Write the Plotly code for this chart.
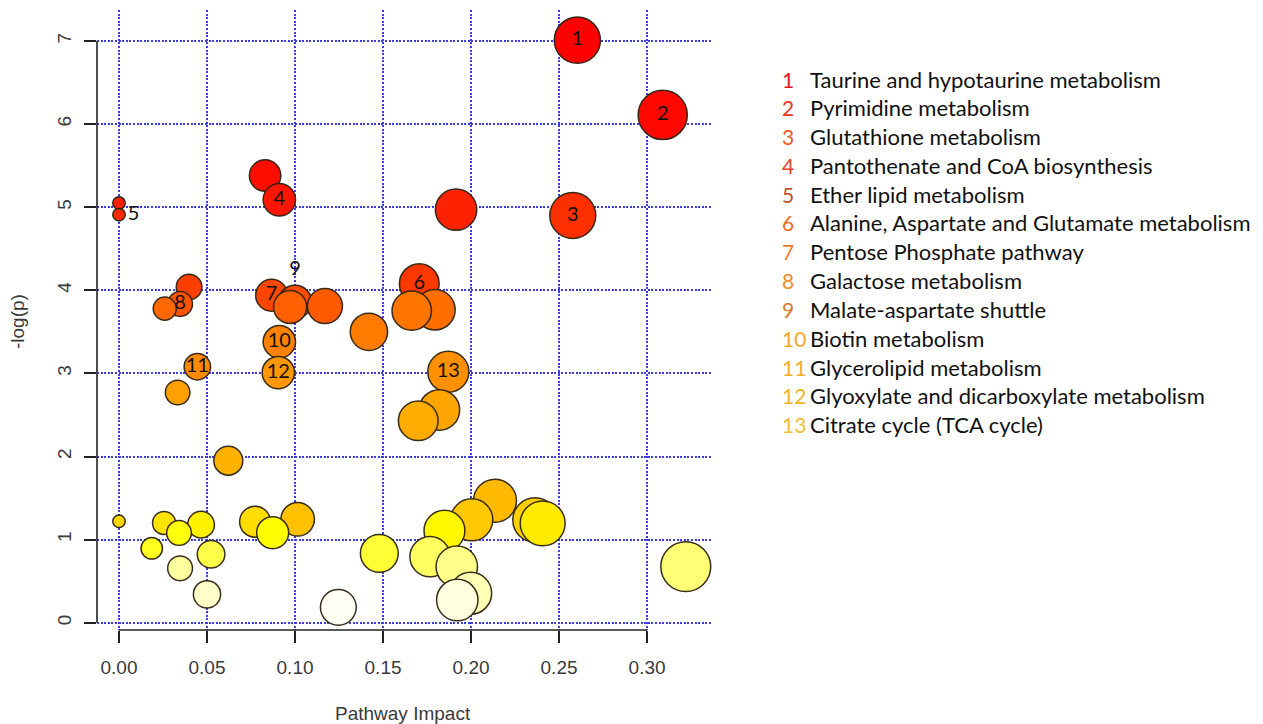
import plotly.graph_objects as go
import math

# ---------------- data ----------------
impact = [0.2604, 0.3089, 0.0830, 0.0911, 0.0000, 0.1915, 0.0000, 0.2578,
          0.1706, 0.0398, 0.0867, 0.1000, 0.0347, 0.1170, 0.0972, 0.0260,
          0.1795, 0.1663, 0.1420, 0.0911, 0.0445, 0.1871, 0.0905, 0.0333,
          0.1820, 0.1700, 0.0621, 0.2136, 0.1015, 0.2004, 0.2364, 0.0000,
          0.0773, 0.0256, 0.2407, 0.0466, 0.1849, 0.0873, 0.0341, 0.0186,
          0.1479, 0.0523, 0.1767, 0.3220, 0.1919, 0.0347, 0.1998, 0.0500,
          0.1922, 0.1246]
neglogp = [7.01, 6.11, 5.38, 5.09, 5.05, 4.97, 4.91, 4.90,
           4.08, 4.04, 3.94, 3.86, 3.835, 3.81, 3.80, 3.78,
           3.765, 3.755, 3.50, 3.38, 3.08, 3.02, 3.01, 2.77,
           2.56, 2.43, 1.95, 1.468, 1.244, 1.238, 1.236, 1.22,
           1.215, 1.20, 1.196, 1.18, 1.107, 1.083, 1.08, 0.895,
           0.835, 0.823, 0.794, 0.675, 0.674, 0.655, 0.354, 0.342,
           0.273, 0.185]
point_labels = ["1", "2", "", "4", "", "", "5", "3",
                "6", "", "7", "9", "8", "", "", "",
                "", "", "", "10", "11", "13", "12", "",
                "", "", "", "", "", "", "", "",
                "", "", "", "", "", "", "", "",
                "", "", "", "", "", "", "", "",
                "", ""]
legend_numbers = ["1", "2", "3", "4", "5", "6", "7", "8", "9", "10", "11", "12", "13"]
legend_names = ["Taurine and hypotaurine metabolism",
                "Pyrimidine metabolism",
                "Glutathione metabolism",
                "Pantothenate and CoA biosynthesis",
                "Ether lipid metabolism",
                "Alanine, Aspartate and Glutamate metabolism",
                "Pentose Phosphate pathway",
                "Galactose metabolism",
                "Malate-aspartate shuttle",
                "Biotin metabolism",
                "Glycerolipid metabolism",
                "Glyoxylate and dicarboxylate metabolism",
                "Citrate cycle (TCA cycle)"]
x_ticks = [0.00, 0.05, 0.10, 0.15, 0.20, 0.25, 0.30]
y_ticks = [0, 1, 2, 3, 4, 5, 6, 7]

# ---------------- styling ----------------
OFF = 8                                   # page body margin
W, H = 1263 - OFF, 724 - OFF
L, R, T, B = 97 - OFF, 712 - OFF, 10 - OFF, 630 - OFF   # plot region (figure px)
XR = [-0.0125, 0.3369]
YR = [-0.0878, 7.373]
px_per_x = (R - L) / (XR[1] - XR[0])

legend_colors = ["#E8141C", "#E8361C", "#EE5A24", "#E8441E", "#C0502E",
                 "#F06A22", "#EE7A24", "#F08A2A", "#D87A28", "#F5A623",
                 "#F2AE1E", "#F2B424", "#F2BE30"]


def heat_colors(n):
    j = n // 4
    i = n - j
    cols = []
    for k in range(i):
        h = (k / (i - 1)) * (1 / 6) if i > 1 else 0
        g = round(h * 6 * 255)
        cols.append("#FF%02X00" % g)
    for k in range(j):
        s = (1 - 1 / (2 * j)) + k * ((1 / (2 * j)) - (1 - 1 / (2 * j))) / (j - 1) if j > 1 else 0.5
        b = round((1 - s) * 255)
        cols.append("#FFFF%02X" % b)
    return cols


colors = heat_colors(len(neglogp))

# circle radius (MetaboAnalyst style: based on sqrt(impact))
sq = [math.sqrt(v) for v in impact]
mn, mx = min(sq), max(sq)
maxR = (mx - mn) / 40
minR = (mx - mn) / 160
diam = [2 * (minR + (maxR - minR) * (s - mn) / (mx - mn)) * px_per_x for s in sq]

textpos = []
for lab in point_labels:
    if lab == "5":
        textpos.append("middle right")
    elif lab == "9":
        textpos.append("top center")
    else:
        textpos.append("middle center")

fig = go.Figure()
fig.add_trace(go.Scatter(
    x=impact, y=neglogp, mode="markers+text",
    text=point_labels, textposition=textpos,
    textfont=dict(family="Lato, sans-serif", size=20, color="#111111"),
    marker=dict(size=diam, sizemode="diameter", color=colors, opacity=1,
                line=dict(color="rgba(45,35,20,0.95)", width=1.5)),
    hoverinfo="skip", showlegend=False, cliponaxis=False,
))


def px_x(p):          # page pixel -> paper
    return (p - OFF - L) / (R - L)


def px_y(p):
    return (B - (p - OFF)) / (B - T)


grid = dict(showgrid=True, gridcolor="rgb(60,60,228)", gridwidth=2,
            griddash="2px,1.6px", zeroline=False, showline=False,
            ticks="outside", ticklen=12, tickwidth=1.5, tickcolor="#222222",
            tickfont=dict(family="Liberation Sans, Arial, sans-serif", size=19, color="#3a3a3a"))

fig.update_layout(
    width=W, height=H,
    margin=dict(l=L, r=W - R, t=T, b=H - B),
    paper_bgcolor="white", plot_bgcolor="white",
    xaxis=dict(range=XR, tickvals=x_ticks, ticktext=["%.2f" % v for v in x_ticks],
               ticklabelstandoff=8, **grid),
    yaxis=dict(range=YR, tickvals=y_ticks, ticktext=[str(v) for v in y_ticks],
               tickangle=-90, ticklabelstandoff=5, **grid),
    showlegend=False,
)

# axis lines spanning only the tick range (R style)
fig.add_shape(type="line", xref="paper", yref="y", x0=0, x1=0, y0=y_ticks[0], y1=y_ticks[-1],
              line=dict(color="#222222", width=1.6))
fig.add_shape(type="line", xref="x", yref="paper", x0=x_ticks[0], x1=x_ticks[-1], y0=0, y1=0,
              line=dict(color="#222222", width=1.6))

# axis titles
fig.add_annotation(text="Pathway Impact", xref="paper", yref="paper",
                   x=px_x(403), y=px_y(713), xanchor="center", yanchor="middle",
                   showarrow=False,
                   font=dict(family="Liberation Sans, Arial, sans-serif", size=19, color="#3a3a3a"))
fig.add_annotation(text="-log(p)", xref="paper", yref="paper",
                   x=px_x(18), y=px_y(322), xanchor="center", yanchor="middle", textangle=-90,
                   showarrow=False,
                   font=dict(family="Liberation Sans, Arial, sans-serif", size=19, color="#3a3a3a"))

# side legend (numbers + pathway names)
for k, (num, name) in enumerate(zip(legend_numbers, legend_names)):
    yc = 79 + 28.8 * k
    fig.add_annotation(text=num, xref="paper", yref="paper", x=px_x(780), y=px_y(yc),
                       xanchor="left", yanchor="middle", showarrow=False,
                       font=dict(family="Lato, sans-serif", size=21, color=legend_colors[k]))
    fig.add_annotation(text=name, xref="paper", yref="paper", x=px_x(808), y=px_y(yc),
                       xanchor="left", yanchor="middle", showarrow=False,
                       font=dict(family="Lato, sans-serif", size=22, color="#111111"))

fig.write_html("out.html")
